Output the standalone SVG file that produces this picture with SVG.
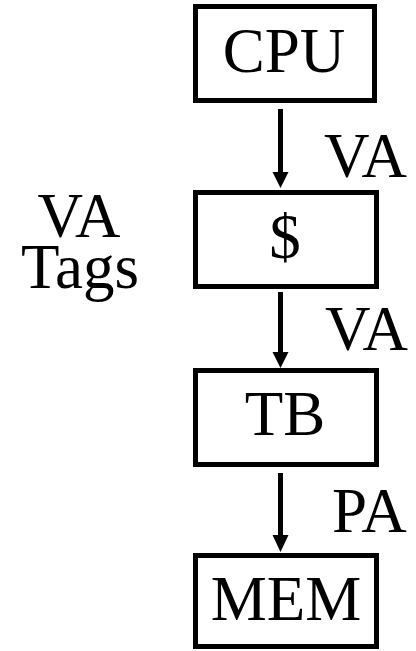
<svg xmlns="http://www.w3.org/2000/svg" width="416" height="651" viewBox="0 0 416 651">
<defs>
<style>
.box{fill:#fff;stroke:#000;stroke-width:5}
.t{font-family:"Liberation Serif","Times New Roman",serif;font-size:63px;fill:#000}
.c{text-anchor:middle}
.ln{stroke:#000;stroke-width:5;fill:none}
.hd{fill:#000}
</style>
</defs>
<rect width="416" height="651" fill="#fff"/>
<g id="cpu"><rect class="box" x="195.5" y="6.5" width="179" height="94"/><text class="t c" x="284" y="72">CPU</text></g>
<g id="cache"><rect class="box" x="195.5" y="192.5" width="181" height="94"/><text class="t c" x="285" y="258">$</text></g>
<g id="tb"><rect class="box" x="195.5" y="370.5" width="181" height="94"/><text class="t c" x="285" y="435">TB</text></g>
<g id="mem"><rect class="box" x="195.5" y="555.5" width="181" height="91"/><text class="t c" x="286" y="620">MEM</text></g>
<g id="connectors">
<line class="ln" x1="280.5" y1="109" x2="280.5" y2="174"/><polygon class="hd" points="272.5,172 288.5,172 280.5,188"/>
<line class="ln" x1="280.5" y1="292" x2="280.5" y2="354"/><polygon class="hd" points="272.5,352 288.5,352 280.5,368"/>
<line class="ln" x1="280.5" y1="473" x2="280.5" y2="537"/><polygon class="hd" points="272.5,535 288.5,535 280.5,552"/>
</g>
<g id="labels">
<text class="t" x="324" y="177">VA</text>
<text class="t" x="325" y="350">VA</text>
<text class="t" x="332" y="532">PA</text>
<text class="t c"><tspan x="79" y="237">VA</tspan><tspan x="80" y="288">Tags</tspan></text>
</g>
</svg>
